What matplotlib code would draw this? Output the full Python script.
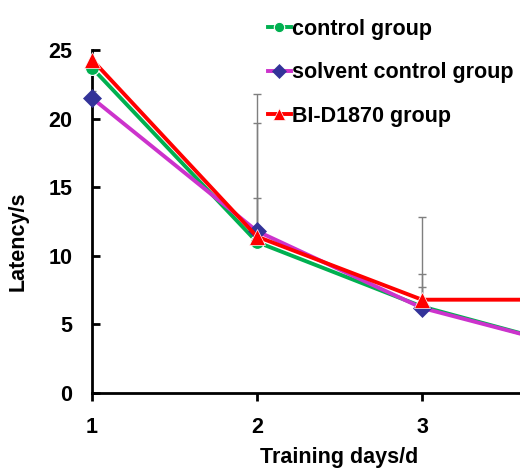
import matplotlib
matplotlib.use("Agg")
import matplotlib.pyplot as plt

plt.rcParams['font.family'] = ['Liberation Sans', 'DejaVu Sans']

days = [1, 2, 3, 4]
control = [23.7, 11.0, 6.3, 3.05]
control_err = [0.5, 8.7, 2.4, 0.5]
solvent = [21.5, 11.8, 6.2, 3.05]
solvent_err = [0.5, 2.4, 1.5, 0.5]
bid = [24.3, 11.4, 6.8, 6.8]
bid_err = [0.9, 10.4, 6.0, 0.5]
labels = ['control group', 'solvent control group', 'BI-D1870 group']
xticks = [1, 2, 3]
yticks = [0, 5, 10, 15, 20, 25]

FS = 15.5
W, H = 520, 469
fig = plt.figure(figsize=(W / 100, H / 100), dpi=100)
ax = fig.add_axes([92 / W, (H - 393) / H, (520 - 92) / W, (393 - 50) / H])

errkw = dict(fmt='none', ecolor='#7f7f7f', elinewidth=1.0, capsize=3, capthick=1.0, zorder=1)
ax.errorbar(days, control, yerr=[[0] * 4, control_err], **errkw)
ax.errorbar(days, solvent, yerr=[[0] * 4, solvent_err], **errkw)
ax.errorbar(days, bid, yerr=[[0] * 4, bid_err], **errkw)

l1, = ax.plot(days, control, color='#00B050', lw=2.8, marker='o', ms=10,
              mfc='#00B050', mec='white', mew=0.8, zorder=3, label=labels[0])
l2, = ax.plot(days, solvent, color='#CC33CC', lw=2.8, marker='D', ms=9,
              mfc='#333399', mec='#333399', mew=0.5, zorder=4, label=labels[1])
l3, = ax.plot(days, bid, color='#FF0000', lw=2.8, marker='^', ms=11,
              mfc='#FF0000', mec='white', mew=0.5, zorder=5, label=labels[2])
for l in (l1, l2, l3):
    l.set_clip_box(fig.bbox)

ax.set_xlim(1, 1 + 428 / 165)
ax.set_ylim(0, 25)
ax.set_xticks(xticks)
ax.set_yticks(yticks)
ax.set_xticklabels([str(t) for t in xticks], fontsize=FS, fontweight='bold')
ax.set_yticklabels([str(t) for t in yticks], fontsize=FS, fontweight='bold')
ax.tick_params(axis='y', direction='in', length=6, width=2, pad=14)
ax.tick_params(axis='x', direction='out', length=6, width=2, pad=11)
for s in ['top', 'right']:
    ax.spines[s].set_visible(False)
for s in ['left', 'bottom']:
    ax.spines[s].set_linewidth(2)

ax.set_xlabel('Training days/d', fontsize=FS, fontweight='bold')
ax.xaxis.set_label_coords((339 - 92) / 428, -0.156)
ax.set_ylabel('Latency/s', fontsize=FS, fontweight='bold')
ax.yaxis.set_label_coords(-0.148, 0.443)

leg = fig.legend(handles=[l1, l2, l3], loc='upper left', bbox_to_anchor=(259 / W, 1 - 10 / H),
                 frameon=False, prop={'weight': 'bold', 'size': FS}, handlelength=1.1,
                 handletextpad=0.05, labelspacing=1.05, borderaxespad=0, markerscale=0.75)

fig.savefig('out.png', dpi=100)
